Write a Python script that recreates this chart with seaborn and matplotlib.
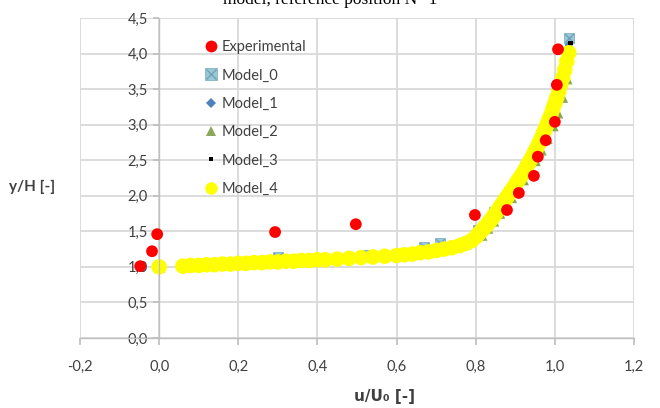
import matplotlib
matplotlib.use("Agg")
import matplotlib.pyplot as plt
import seaborn as sns
import pandas as pd
from matplotlib.ticker import FuncFormatter, MultipleLocator
from matplotlib.lines import Line2D

# ---------------- data ----------------
exp_x = [-0.048, -0.018, -0.005, 0.293, 0.497, 0.798, 0.879, 0.909, 0.947, 0.957, 0.977, 1.000, 1.005, 1.008]
exp_y = [1.01, 1.22, 1.46, 1.49, 1.60, 1.73, 1.80, 2.04, 2.28, 2.55, 2.78, 3.04, 3.56, 4.06]

m0_x = [0.00, 0.30, 0.52, 0.67, 0.71, 0.805, 0.846, 0.885, 0.925, 0.960, 0.990, 1.015, 1.035]
m0_y = [1.00, 1.14, 1.17, 1.28, 1.33, 1.52, 1.77, 2.05, 2.40, 2.75, 3.12, 3.60, 4.22]

m1_x = [0.00, 0.10, 0.20, 0.30, 0.40, 0.50, 0.58, 0.65, 0.72, 0.77, 0.81, 0.84, 0.87, 0.90, 0.93, 0.96, 0.99, 1.01, 1.025, 1.035]
m1_y = [1.00, 1.03, 1.05, 1.08, 1.10, 1.13, 1.16, 1.20, 1.26, 1.33, 1.47, 1.66, 1.88, 2.13, 2.40, 2.72, 3.12, 3.45, 3.75, 4.12]

m2_x = [0.00, 0.10, 0.20, 0.30, 0.40, 0.50, 0.58, 0.65, 0.72, 0.78, 0.82, 0.835, 0.85, 0.865, 0.88, 0.895, 0.91, 0.925, 0.94, 0.955, 0.97, 0.985, 1.00, 1.012, 1.024, 1.035, 1.04]
m2_y = [1.00, 1.02, 1.04, 1.07, 1.09, 1.12, 1.15, 1.18, 1.23, 1.30, 1.42, 1.52, 1.62, 1.73, 1.84, 1.95, 2.07, 2.20, 2.33, 2.47, 2.62, 2.78, 2.96, 3.14, 3.36, 3.62, 4.10]

m3_x = [0.00, 0.12, 0.22, 0.33, 0.44, 0.52, 0.60, 0.67, 0.73, 0.78, 0.82, 0.85, 0.88, 0.91, 0.94, 0.97, 1.00, 1.02, 1.04]
m3_y = [1.00, 1.03, 1.05, 1.11, 1.11, 1.13, 1.16, 1.20, 1.26, 1.34, 1.50, 1.72, 1.96, 2.22, 2.50, 2.84, 3.25, 3.62, 4.15]

m4_x = [0.00, 0.06, 0.08, 0.10, 0.12, 0.14, 0.16, 0.18, 0.20, 0.22, 0.24, 0.26, 0.28, 0.30,
        0.32, 0.34, 0.36, 0.38, 0.40, 0.42, 0.45, 0.48, 0.51, 0.54, 0.57, 0.60, 0.62, 0.64,
        0.66, 0.68, 0.70, 0.72, 0.74, 0.76, 0.775, 0.79, 0.800, 0.805, 0.810, 0.815, 0.820,
        0.825, 0.830, 0.835, 0.840, 0.845, 0.850, 0.855, 0.860, 0.865, 0.870, 0.875, 0.880,
        0.885, 0.890, 0.895, 0.900, 0.905, 0.910, 0.915, 0.920, 0.925, 0.930, 0.935, 0.940,
        0.945, 0.950, 0.955, 0.960, 0.965, 0.970, 0.975, 0.980, 0.985, 0.990, 0.995, 1.000,
        1.005, 1.010, 1.015, 1.020, 1.025, 1.030, 1.035]
m4_y = [1.00, 1.01, 1.02, 1.02, 1.03, 1.03, 1.04, 1.04, 1.05, 1.05, 1.06, 1.06, 1.07, 1.07,
        1.08, 1.08, 1.09, 1.09, 1.10, 1.10, 1.11, 1.12, 1.13, 1.14, 1.15, 1.16, 1.17, 1.18,
        1.20, 1.21, 1.23, 1.25, 1.27, 1.30, 1.33, 1.37, 1.42, 1.45, 1.48, 1.51, 1.54,
        1.57, 1.60, 1.64, 1.67, 1.71, 1.75, 1.79, 1.83, 1.87, 1.91, 1.95, 1.99,
        2.03, 2.07, 2.11, 2.15, 2.20, 2.24, 2.28, 2.32, 2.37, 2.42, 2.47, 2.52,
        2.57, 2.63, 2.68, 2.74, 2.80, 2.87, 2.93, 3.00, 3.07, 3.14, 3.22, 3.30,
        3.38, 3.47, 3.56, 3.66, 3.77, 3.89, 4.01]

labels = ["Experimental", "Model_0", "Model_1", "Model_2", "Model_3", "Model_4"]

# ---------------- style ----------------
sns.set_theme(style="white")
plt.rcParams['font.family'] = ['Lato', 'DejaVu Sans']

fig = plt.figure(figsize=(6.6, 4.08), dpi=100)
ax = fig.add_axes([80 / 660, (408 - 338) / 408, (634 - 80) / 660, (338 - 18) / 408])

ax.set_xlim(-0.2, 1.2)
ax.set_ylim(0, 4.5)
ax.xaxis.set_major_locator(MultipleLocator(0.2))
ax.yaxis.set_major_locator(MultipleLocator(0.5))
ax.grid(True, color="#d9d9d9", linewidth=1.3, zorder=0)
ax.set_axisbelow(True)

fmt = FuncFormatter(lambda v, p: f"{v:.1f}".replace(".", ",").replace("-0,0", "0,0"))
ax.xaxis.set_major_formatter(fmt)
ax.yaxis.set_major_formatter(fmt)

for s in ["top", "right"]:
    ax.spines[s].set_visible(False)
ax.spines["left"].set_position(("data", 0))
ax.spines["left"].set_color("#bfbfbf")
ax.spines["bottom"].set_color("#bfbfbf")
ax.spines["left"].set_linewidth(1.0)
ax.spines["bottom"].set_linewidth(1.0)
ax.tick_params(axis="x", direction="out", length=5, color="#bfbfbf", pad=11,
               labelsize=10.5, labelcolor="#404040", bottom=True)
ax.tick_params(axis="y", direction="out", length=4, color="#bfbfbf", pad=4,
               labelsize=10.5, labelcolor="#404040", left=True)

# series
sns.scatterplot(x=exp_x, y=exp_y, ax=ax, color="#ff0000", marker="o", s=72,
                edgecolor="none", zorder=3)
sns.scatterplot(x=m0_x, y=m0_y, ax=ax, color="#9cc7d6", marker="s", s=55,
                edgecolor="#7fb3c6", linewidth=0.6, zorder=2)
ax.scatter(m0_x, m0_y, marker="x", s=40, color="#6fa3b8", linewidths=1.0, zorder=2.1)
sns.scatterplot(x=m1_x, y=m1_y, ax=ax, color="#4f81bd", marker="D", s=18,
                edgecolor="none", zorder=2.2)
sns.scatterplot(x=m2_x, y=m2_y, ax=ax, color="#8aa85a", marker="^", s=30,
                edgecolor="none", zorder=2.3)
sns.scatterplot(x=m3_x, y=m3_y, ax=ax, color="#000000", marker="s", s=10,
                edgecolor="none", zorder=2.4)
sns.scatterplot(x=m4_x, y=m4_y, ax=ax, color="#ffff00", marker="o", s=125,
                edgecolor="none", zorder=2.5)

# legend (custom handles to mimic Excel markers)
handles = [
    Line2D([], [], ls="none", marker="o", color="#ff0000", markersize=8.5, markeredgewidth=0),
    (Line2D([], [], ls="none", marker="s", color="#9cc7d6", markersize=8, markeredgecolor="#7fb3c6", markeredgewidth=0.6),
     Line2D([], [], ls="none", marker="x", color="#6fa3b8", markersize=7, markeredgewidth=1.0)),
    Line2D([], [], ls="none", marker="D", color="#4f81bd", markersize=5, markeredgewidth=0),
    Line2D([], [], ls="none", marker="^", color="#8aa85a", markersize=7, markeredgewidth=0),
    Line2D([], [], ls="none", marker="s", color="#000000", markersize=3.5, markeredgewidth=0),
    Line2D([], [], ls="none", marker="o", color="#ffff00", markersize=9, markeredgewidth=0),
]
leg = ax.legend(handles, labels, loc="upper left", bbox_to_anchor=(196 / 660, 1 - 33 / 408),
                bbox_transform=fig.transFigure, frameon=False, fontsize=10.5,
                handlelength=1.0, handletextpad=0.25, labelspacing=0.98, borderpad=0)
for t in leg.get_texts():
    t.set_color("#404040")

ax.set_xlabel("")
ax.set_ylabel("")
fig.text(32 / 660, 1 - 187 / 408, "y/H [-]", ha="center", va="center",
         fontsize=11, fontweight="bold", color="#404040")
fig.text(385 / 660, 1 - 396 / 408, "u/U\u2080 [-]", ha="center", va="center",
         fontsize=11, fontweight="bold", color="#404040",
         family=["DejaVu Sans"])
fig.text(0.5, 1.0, "model, reference position N\u00b0 1", ha="center", va="center",
         fontsize=12.5, family="Liberation Serif", color="#000000")

fig.savefig("out.png", dpi=100)
